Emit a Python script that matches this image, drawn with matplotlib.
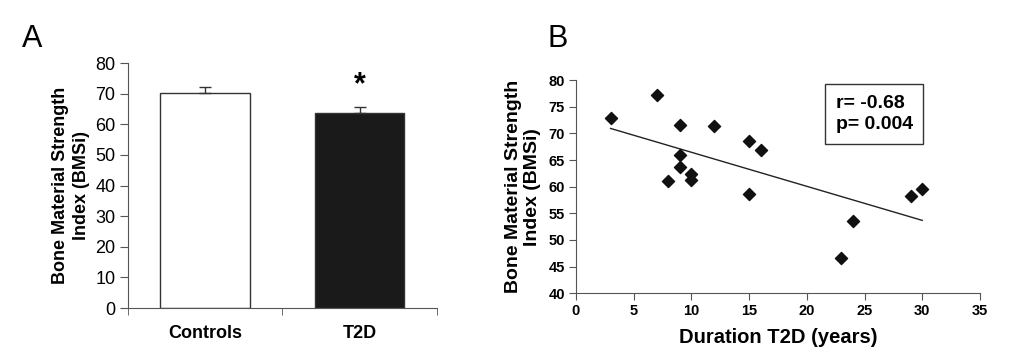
import numpy as np
import matplotlib
matplotlib.use("Agg")
import matplotlib.pyplot as plt

plt.rcParams['font.family'] = ['Liberation Sans', 'DejaVu Sans']

# Panel A: bar chart
groups = ["Controls", "T2D"]
bmsi_mean = [70.1, 63.7]
bmsi_err = [2.0, 2.0]
bar_colors = ["white", "#1a1a1a"]

# Panel B: scatter of BMSi vs duration
duration = [3, 7, 9, 12, 15, 16, 9, 9, 8, 10, 10, 15, 24, 23, 29, 30]
bmsi = [72.9, 77.2, 71.5, 71.4, 68.5, 66.9, 65.9, 63.7, 61.1, 62.3, 61.3,
        58.6, 53.5, 46.6, 58.2, 59.6]
r_text = "r= -0.68\np= 0.004"

axis_col = "#555555"

fig = plt.figure(figsize=(10.14, 3.59), dpi=100)

# ---------- A ----------
axA = fig.add_axes([0.1262, 0.142, 0.3047, 0.6825])
pos = np.arange(len(groups))
axA.bar(pos, bmsi_mean, width=0.58, color=bar_colors, edgecolor="#333333",
        linewidth=1.0, zorder=2)
axA.errorbar(pos, bmsi_mean, yerr=[[0, 0], bmsi_err], fmt="none",
             ecolor="#333333", elinewidth=1.0, capsize=4, capthick=1.0, zorder=3)
axA.text(pos[1], bmsi_mean[1] + bmsi_err[1] + 2.0, "*", ha="center", va="bottom",
         fontsize=22, fontweight="bold")
axA.set_xlim(-0.5, 1.5)
axA.set_ylim(0, 80)
axA.set_yticks(np.arange(0, 81, 10))
axA.set_xticks(pos)
axA.set_xticklabels(groups, fontsize=13, fontweight="bold")
axA.set_xticks([-0.5, 0.5, 1.5], minor=True)
axA.tick_params(axis="x", which="major", length=0, pad=12)
axA.tick_params(axis="x", which="minor", length=5, direction="out", color=axis_col)
axA.tick_params(axis="y", length=6, direction="out", color=axis_col, labelsize=13, pad=3)
axA.set_ylabel("Bone Material Strength\nIndex (BMSi)", fontsize=13, fontweight="bold",
               labelpad=4, linespacing=1.25)
for s in ["top", "right"]:
    axA.spines[s].set_visible(False)
for s in ["left", "bottom"]:
    axA.spines[s].set_color(axis_col)
fig.text(0.022, 0.87, "A", fontsize=22)

# ---------- B ----------
axB = fig.add_axes([0.568, 0.183, 0.3984, 0.594])
slope, intercept = np.polyfit(duration, bmsi, 1)
xl = np.array([min(duration), max(duration)])
axB.plot(xl, slope * xl + intercept, color="#222222", linewidth=1.0, zorder=2)
axB.scatter(duration, bmsi, marker="D", s=38, color="#111111", zorder=3)
axB.set_xlim(0, 35)
axB.set_ylim(40, 80)
axB.set_xticks(np.arange(0, 36, 5))
axB.set_yticks(np.arange(40, 81, 5))
for lab in axB.get_xticklabels() + axB.get_yticklabels():
    lab.set_fontweight("bold")
axB.tick_params(length=5, direction="out", color=axis_col, labelsize=10.5, pad=3)
axB.set_xlabel("Duration T2D (years)", fontsize=14.5, fontweight="bold", labelpad=7)
axB.set_ylabel("Bone Material Strength\nIndex (BMSi)", fontsize=14, fontweight="bold",
               labelpad=5, linespacing=1.2)
for s in ["top", "right"]:
    axB.spines[s].set_visible(False)
for s in ["left", "bottom"]:
    axB.spines[s].set_color(axis_col)
axB.text(22.5, 73.6, r_text, fontsize=14, fontweight="bold", va="center",
         linespacing=1.35,
         bbox=dict(boxstyle="square,pad=0.55", facecolor="white", edgecolor="#333333",
                   linewidth=1.0))
fig.text(0.54, 0.87, "B", fontsize=22)

fig.savefig("out.png", dpi=100)
